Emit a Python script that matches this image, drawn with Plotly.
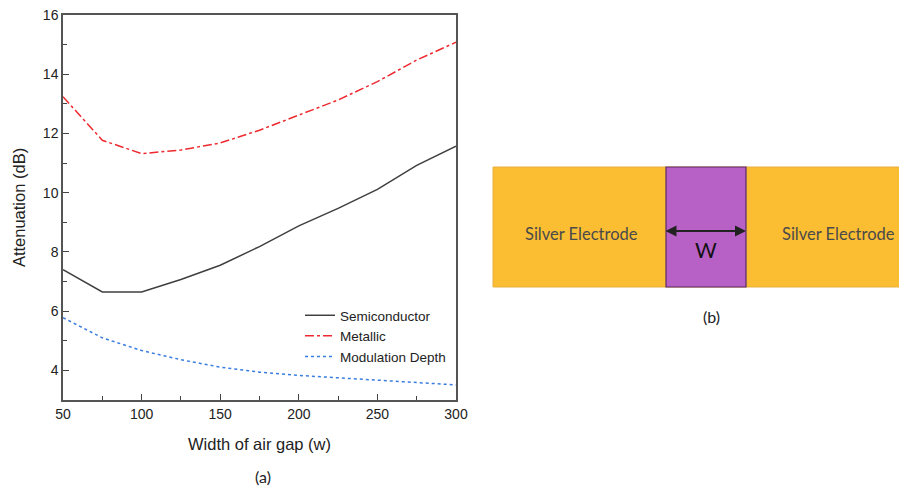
import plotly.graph_objects as go

W, H = 907, 487
OFF = 8  # page body margin offset

gap_width = [50, 75, 100, 125, 150, 175, 200, 225, 250, 275, 300]
semiconductor = [7.40, 6.65, 6.65, 7.07, 7.55, 8.18, 8.88, 9.47, 10.11, 10.92, 11.57]
metallic = [13.24, 11.77, 11.32, 11.44, 11.68, 12.11, 12.62, 13.13, 13.75, 14.48, 15.08]
modulation_depth = [5.78, 5.10, 4.67, 4.36, 4.11, 3.94, 3.83, 3.75, 3.66, 3.59, 3.51]

x_ticks = [50, 100, 150, 200, 250, 300]
y_ticks = [4, 6, 8, 10, 12, 14, 16]

def px(x):
    return (x - OFF) / W

def py(y):
    return 1 - (y - OFF) / H

fig = go.Figure()
fig.add_trace(go.Scatter(x=gap_width, y=semiconductor, mode="lines", name="Semiconductor",
                         line=dict(color="#3f3f3f", width=1.5)))
fig.add_trace(go.Scatter(x=gap_width, y=metallic, mode="lines", name="Metallic",
                         line=dict(color="#ee2a30", width=1.5, dash="dashdot")))
fig.add_trace(go.Scatter(x=gap_width, y=modulation_depth, mode="lines", name="Modulation Depth",
                         line=dict(color="#3a7de0", width=1.5, dash="dot")))

axis_font = dict(family="Liberation Sans, Arial", size=14, color="#222")
fig.update_layout(
    width=W, height=H,
    margin=dict(l=0, r=0, t=0, b=0),
    paper_bgcolor="white", plot_bgcolor="white",
    font=dict(family="Liberation Sans, Arial", color="#222"),
    xaxis=dict(domain=[px(63), px(456)], range=[50, 300], tickvals=x_ticks,
               automargin=False, ticklabeloverflow="allow",
               ticks="inside", ticklen=6, tickcolor="#444", tickwidth=1.2,
               minor=dict(tickvals=[75, 125, 175, 225, 275], ticks="inside", ticklen=4, tickcolor="#444"),
               showline=True, linecolor="#555", linewidth=1.5, mirror=True,
               showgrid=False, zeroline=False, tickfont=axis_font,
               title=dict(text="Width of air gap (w)", font=dict(size=16.5, color="#222"), standoff=18)),
    yaxis=dict(domain=[py(400), py(15)], range=[3, 16], tickvals=y_ticks,
               automargin=False, ticklabeloverflow="allow",
               ticks="inside", ticklen=6, tickcolor="#444", tickwidth=1.2,
               minor=dict(tickvals=[5, 7, 9, 11, 13, 15], ticks="inside", ticklen=4, tickcolor="#444"),
               showline=True, linecolor="#555", linewidth=1.5, mirror=True,
               showgrid=False, zeroline=False, tickfont=axis_font,
               title=dict(text="Attenuation (dB)", font=dict(size=16.5, color="#222"), standoff=13)),
    legend=dict(x=px(300), y=py(300), xanchor="left", yanchor="top",
                bgcolor="rgba(0,0,0,0)", font=dict(size=13.5, color="#222"),
                tracegroupgap=0, itemwidth=30),
    showlegend=True,
)

# diagram (b)
fig.add_shape(type="rect", xref="paper", yref="paper",
              x0=px(493), x1=px(920), y0=py(287), y1=py(167),
              fillcolor="#fbbd32", line=dict(color="#e8b040", width=1))
fig.add_shape(type="rect", xref="paper", yref="paper",
              x0=px(666), x1=px(746), y0=py(287), y1=py(167),
              fillcolor="#b760c6", line=dict(color="#5a2a66", width=1.2))
fig.add_annotation(xref="paper", yref="paper", x=px(746), y=py(231), ax=-82, ay=0,
                   axref="pixel", ayref="pixel", text="", showarrow=True,
                   arrowhead=2, arrowside="end+start", arrowsize=1, arrowwidth=2.2, arrowcolor="#222")

def label(x, y, text, font):
    fig.add_annotation(xref="paper", yref="paper", x=px(x), y=py(y), text=text,
                       xanchor="center", yanchor="middle", showarrow=False, font=font)

label_font = dict(family="Lato, Open Sans", size=16.5, color="#4a4a4a")
label(581, 234, "Silver Electrode", label_font)
label(838, 234, "Silver Electrode", label_font)
label(706, 250, "W", dict(family="Lato, Open Sans", size=21, color="#111"))
label(711, 316, "(b)", dict(family="Lato", size=16, color="#222"))
label(263, 476, "(a)", dict(family="Lato", size=16, color="#222"))

fig.write_html("out.html")
